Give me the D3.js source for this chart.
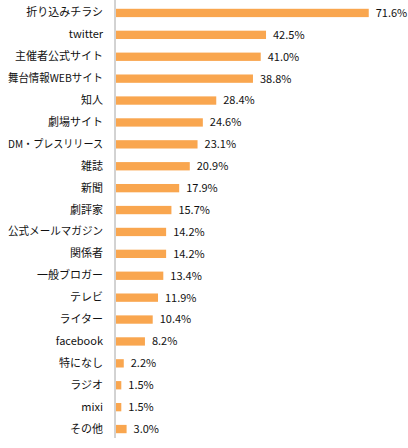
<!DOCTYPE html>
<html>
<head>
<meta charset="utf-8">
<script src="https://cdn.jsdelivr.net/npm/d3@7"></script>
<style>
  body { margin: 0; background: #fff; }
  text { font-family: "Noto Sans CJK JP", sans-serif; font-size: 11px; fill: #111; }
</style>
</head>
<body>
<svg id="chart"></svg>
<script>
// categories, top to bottom
const categories = ["折り込みチラシ", "twitter", "主催者公式サイト", "舞台情報WEBサイト", "知人",
  "劇場サイト", "DM・プレスリリース", "雑誌", "新聞", "劇評家", "公式メールマガジン", "関係者",
  "一般ブロガー", "テレビ", "ライター", "facebook", "特になし", "ラジオ", "mixi", "その他"];
const values = [71.6, 42.5, 41.0, 38.8, 28.4, 24.6, 23.1, 20.9, 17.9, 15.7, 14.2, 14.2,
  13.4, 11.9, 10.4, 8.2, 2.2, 1.5, 1.5, 3.0];

const width = 408, height = 448;
const margin = {top: 2, right: 0, bottom: 8, left: 116};

const svg = d3.select("#chart").attr("width", width).attr("height", height);

const x = d3.scaleLinear().domain([0, 100]).range([margin.left, margin.left + 353]);
const y = d3.scaleBand().domain(categories).range([margin.top, height - margin.bottom]).paddingInner(0.62).paddingOuter(0.31);

const rows = categories.map((c, i) => ({cat: c, val: values[i]}));

svg.selectAll("rect.bar")
  .data(rows)
  .join("rect")
    .attr("class", "bar")
    .attr("x", x(0))
    .attr("y", d => y(d.cat))
    .attr("width", d => x(d.val) - x(0))
    .attr("height", y.bandwidth())
    .style("fill", "#f9a64f");

// value labels
svg.selectAll("text.val")
  .data(rows)
  .join("text")
    .attr("class", "val")
    .attr("x", d => x(d.val) + 7)
    .attr("y", d => y(d.cat) + y.bandwidth() / 2)
    .attr("dy", "0.35em")
    .text(d => d.val.toFixed(1) + "%");

// category axis
const yAxis = d3.axisLeft(y).tickSize(0).tickPadding(12);
svg.append("g")
  .attr("transform", `translate(${margin.left - 1},0)`)
  .call(yAxis)
  .call(g => g.select(".domain").attr("stroke", "#a6a6a6").attr("d", `M0,0V${height - 10}`))
  .call(g => g.selectAll("text").style("font-size", "11px").attr("fill", "#111"))
  // squeeze the odd label that runs off the left edge
  .call(g => g.selectAll("text").each(function() {
    if (this.getComputedTextLength() > 96) d3.select(this).attr("textLength", 95).attr("lengthAdjust", "spacingAndGlyphs");
  }));
</script>
</body>
</html>
